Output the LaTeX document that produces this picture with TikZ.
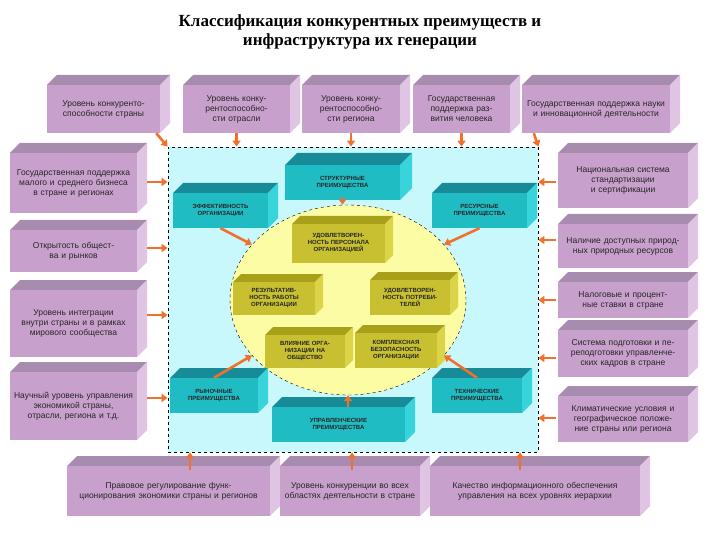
\documentclass[tikz,border=0pt]{standalone}
\usepackage{fontspec}
\setmainfont{Liberation Sans}
\newfontfamily\titlefont{Liberation Serif}
\usetikzlibrary{arrows.meta,shapes.geometric}
\definecolor{pfront}{HTML}{C8A0CC}
\definecolor{ptop}{HTML}{A88CB0}
\definecolor{pside}{HTML}{E0C4E4}
\definecolor{cfront}{HTML}{20BCC4}
\definecolor{ctop}{HTML}{178C98}
\definecolor{cside}{HTML}{38D4DC}
\definecolor{ofront}{HTML}{C8C030}
\definecolor{otop}{HTML}{A8A018}
\definecolor{oside}{HTML}{DCD448}
\definecolor{arr}{HTML}{F0702C}
\definecolor{bgc}{HTML}{C8F8FC}
\definecolor{yel}{HTML}{FCFCA4}
\tikzset{
  txt/.style={align=center,inner sep=1pt,font=\fontsize{8.5}{10}\selectfont,text=black!85},
  intxt/.style={align=center,inner sep=1pt,font=\fontsize{6}{7}\selectfont\bfseries,text=black!85},
  arrow/.style={draw=arr,line width=2.6pt,-{Triangle[length=6pt,width=8pt]}}
}
% name, x1,y1,x2,y2, depth, colorprefix, text, textstyle
\newcommand\cube[9]{%
  \fill[#7top] (#2,#3) -- (#2+#6,#3-#6) -- (#4+#6,#3-#6) -- (#4,#3) -- cycle;
  \fill[#7side] (#4,#3) -- (#4+#6,#3-#6) -- (#4+#6,#5-#6) -- (#4,#5) -- cycle;
  \node[#9,fill=#7front,minimum width={(#4-#2)*1pt},minimum height={(#5-#3)*1pt},text width={(#4-#2-4)*1pt}] (#1) at ({(#2+#4)/2},{(#3+#5)/2}) {#8};
}
\begin{document}
\begin{tikzpicture}[x=1pt,y=-1pt]
\useasboundingbox (0,0) rectangle (720,540);
\fill[white] (0,0) rectangle (720,540);
\node[font=\titlefont\bfseries\fontsize{17}{19}\selectfont,align=center] (title) at (360,32) {Классификация конкурентных преимуществ и\\инфраструктура их генерации};
% central area
\node[draw=black,dashed,thick,fill=bgc,minimum width=370pt,minimum height=305pt,inner sep=0pt] (R) at (353,299.5) {};
\node[draw=black,dashed,fill=yel,ellipse,minimum width=236pt,minimum height=190pt,inner sep=0pt] (E) at (348,300) {};
% top row
\cube{t1}{47}{85}{160}{133}{10}{p}{Уровень конкуренто\-способности страны}{txt}
\cube{t2}{183}{85}{290}{133}{10}{p}{Уровень конку\-рентоспособно\-сти отрасли}{txt}
\cube{t3}{302}{85}{400}{133}{10}{p}{Уровень конку\-рентоспособно\-сти региона}{txt}
\cube{t4}{413}{85}{510}{133}{10}{p}{Государственная поддержка раз\-вития человека}{txt}
\cube{t5}{522}{85}{670}{133}{10}{p}{Государственная под\-держка науки и иннова\-ционной деятельности}{txt}
% left column
\cube{l1}{10}{153}{137}{213}{10}{p}{Государственная поддержка малого и среднего бизнеса в стране и регионах}{txt}
\cube{l2}{10}{230}{137}{272}{10}{p}{Открытость общест\-ва и рынков}{txt}
\cube{l3}{10}{290}{137}{357}{10}{p}{Уровень интеграции внутри страны и в рамках мирового со\-общества}{txt}
\cube{l4}{10}{372}{137}{440}{10}{p}{Научный уровень управления экономи\-кой страны, отрасли, региона и т.д.}{txt}
% right column
\cube{r1}{558}{153}{688}{208}{10}{p}{Национальная система стандартизации и серти\-фикации}{txt}
\cube{r2}{558}{224}{688}{268}{10}{p}{Наличие доступных природ\-ных природных ресурсов}{txt}
\cube{r3}{558}{282}{688}{318}{10}{p}{Налоговые и процент\-ные ставки в стране}{txt}
\cube{r4}{558}{330}{688}{377}{10}{p}{Система подготовки и пе\-реподготовки управленче\-ских кадров в стране}{txt}
\cube{r5}{558}{396}{688}{442}{10}{p}{Климатические условия и географическое положе\-ние страны или региона}{txt}
% bottom row
\cube{b1}{67}{466}{270}{516}{10}{p}{Правовое регулирование функ\-ционирования экономики страны и регионов}{txt}
\cube{b2}{280}{466}{420}{516}{10}{p}{Уровень конкуренции во всех областях деятель\-ности в стране}{txt}
\cube{b3}{430}{466}{640}{516}{10}{p}{Качество информационного обеспе\-чения управления на всех уровнях иерархии}{txt}
% cyan boxes
\cube{c1}{285}{165}{400}{200}{12}{c}{СТРУКТУРНЫЕ\\ПРЕИМУЩЕСТВА}{intxt}
\cube{c2}{173}{193}{268}{228}{10}{c}{ЭФФЕКТИВНОСТЬ\\ОРГАНИЗАЦИИ}{intxt}
\cube{c3}{432}{193}{527}{228}{10}{c}{РЕСУРСНЫЕ\\ПРЕИМУЩЕСТВА}{intxt}
\cube{c4}{170}{378}{258}{413}{10}{c}{РЫНОЧНЫЕ\\ПРЕИМУЩЕСТВА}{intxt}
\cube{c5}{272}{407}{405}{442}{10}{c}{УПРАВЛЕНЧЕСКИЕ\\ПРЕИМУЩЕСТВА}{intxt}
\cube{c6}{432}{378}{522}{413}{10}{c}{ТЕХНИЧЕСКИЕ\\ПРЕИМУЩЕСТВА}{intxt}
% olive boxes
\cube{o1}{292}{224}{385}{263}{8}{o}{УДОВЛЕТВОРЕН-\\НОСТЬ ПЕРСОНАЛА\\ОРГАНИЗАЦИЕЙ}{intxt}
\cube{o2}{233}{282}{315}{315}{8}{o}{РЕЗУЛЬТАТИВ-\\НОСТЬ РАБОТЫ\\ОРГАНИЗАЦИИ}{intxt}
\cube{o3}{370}{280}{450}{315}{8}{o}{УДОВЛЕТВОРЕН-\\НОСТЬ ПОТРЕБИ-\\ТЕЛЕЙ}{intxt}
\cube{o4}{265}{335}{345}{368}{8}{o}{ВЛИЯНИЕ ОРГА-\\НИЗАЦИИ НА\\ОБЩЕСТВО}{intxt}
\cube{o5}{355}{333}{437}{368}{8}{o}{КОМПЛЕКСНАЯ\\БЕЗОПАСНОСТЬ\\ОРГАНИЗАЦИИ}{intxt}
% outer arrows (short stubs)
\draw[arrow] ([shift={(-4,0)}]t1.south east) -- (R.north west);
\foreach \b in {t2,t3,t4} \draw[arrow] (\b.south) -- (\b.south |- R.north);
\draw[arrow] ([shift={(12,0)}]t5.south west) -- (R.north east);
\foreach \b/\yy in {l1/182,l2/248,l3/315,l4/398} {
  \coordinate (la\b) at (147,\yy);
  \draw[arrow] (la\b) -- (la\b -| R.west);
}
\foreach \b/\yy in {r1/182,r2/240,r3/300,r4/358,r5/418} {
  \coordinate (ra\b) at (556,\yy);
  \draw[arrow] (ra\b) -- (ra\b -| R.east);
}
\foreach \b/\xx in {b1/190,b2/352,b3/520} {
  \coordinate (ba\b) at (\xx,470);
  \draw[arrow] (ba\b) -- (ba\b |- R.south);
}
% inner arrows
\draw[arrow] (c1.south) -- (c1.south |- E.north);
\draw[arrow] (c2.south) -- (E.150);
\draw[arrow] (c3.south) -- (E.30);
\draw[arrow] (c4.north) -- (E.210);
\draw[arrow] (c6.north) -- (E.330);
\draw[arrow] (c5.north -| E.south) -- (E.south);
\end{tikzpicture}
\end{document}
